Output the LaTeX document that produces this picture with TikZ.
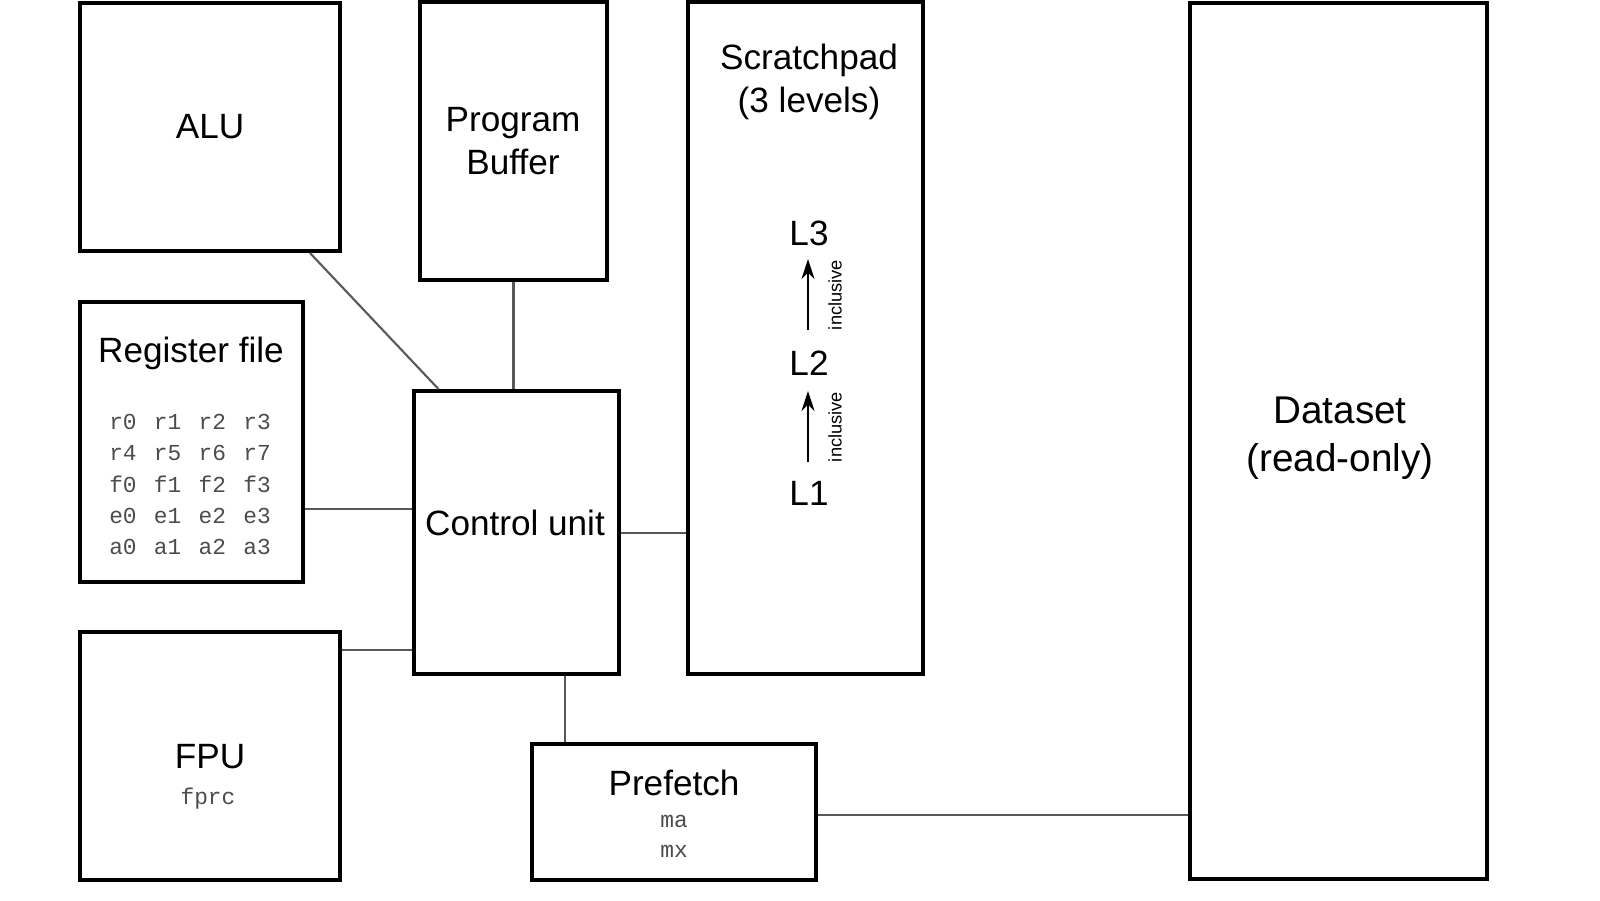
\documentclass[tikz,border=0pt]{standalone}
\usepackage{fontspec}
\setmainfont{Liberation Sans}
\newfontfamily\regmono{Liberation Mono}
\usetikzlibrary{positioning,arrows.meta}

\begin{document}
\begin{tikzpicture}[
    blk/.style={draw, line width=1.1pt, inner sep=0pt},
    lbl/.style={font=\fontsize{10}{12.3}\selectfont, align=center},
    reg/.style={font=\regmono\fontsize{6.5}{8}\selectfont, text=black!70},
    link/.style={draw=black!65, line width=0.6pt},
    up/.style={-{Stealth[length=2mm,width=1.3mm]}, line width=0.7pt},
    tag/.style={font=\fontsize{5.2}{6}\selectfont, rotate=90},
]
\useasboundingbox (0,0) rectangle (16,9);

% ===== Blocks =====
\node[blk, minimum width=2.60cm, minimum height=2.48cm] at (2.10,7.73) (alu) {};
\node[blk, minimum width=1.87cm, minimum height=2.78cm] at (5.135,7.59) (buf) {};
\node[blk, minimum width=2.35cm, minimum height=6.72cm] at (8.055,5.62) (spad) {};
\node[blk, minimum width=2.97cm, minimum height=8.76cm] at (13.385,4.59) (data) {};
\node[blk, minimum width=2.23cm, minimum height=2.80cm] at (1.915,4.58) (regs) {};
\node[blk, minimum width=2.05cm, minimum height=2.83cm] at (5.165,3.675) (ctrl) {};
\node[blk, minimum width=2.60cm, minimum height=2.48cm] at (2.10,1.44) (fpu) {};
\node[blk, minimum width=2.84cm, minimum height=1.36cm] at (6.74,0.88) (pref) {};

% ===== Labels =====
\node[lbl] at (2.10,7.73) (alut) {ALU};
\node[lbl] at (5.13,7.59) (buft) {Program\\Buffer};
\node[lbl] at (8.09,8.18) (spadt) {Scratchpad\\(3 levels)};
\node[lbl, font=\fontsize{11}{13.5}\selectfont] at (13.40,4.62) (datat) {Dataset\\(read-only)};
\node[lbl] at (1.91,5.47) (regst) {Register file};
\node[lbl] at (5.15,3.77) (ctrlt) {Control unit};
\node[lbl] at (2.10,1.43) (fput) {FPU};
\node[reg] at (2.08,1.01) (fprc) {fprc};
\node[lbl] at (6.74,1.17) (preft) {Prefetch};
\node[reg] at (6.74,0.79) (ma) {ma};
\node[reg] at (6.74,0.49) (mx) {mx};

% register names
\foreach \p [count=\r] in {r,r,f,e,a}{
  \pgfmathsetmacro{\yy}{9-(4.22+0.313*(\r-1))}
  \foreach \i [count=\c] in {0,...,3}{
    \pgfmathsetmacro{\xx}{1.23+0.447*(\c-1)}
    \ifnum\r=2 \pgfmathtruncatemacro{\i}{\i+4}\fi
    \node[reg] at (\xx,\yy) {\p\i};
  }
}

% ===== Scratchpad levels =====
\node[lbl] at (8.09,6.67) (l3) {L3};
\node[lbl] at (8.09,5.37) (l2) {L2};
\node[lbl] at (8.09,4.07) (l1) {L1};
\coordinate (a1) at (8.08,4.38);
\coordinate (b1) at (8.08,5.09);
\coordinate (a2) at (8.08,5.70);
\coordinate (b2) at (8.08,6.41);
\draw[up] (a1) -- (b1);
\draw[up] (a2) -- (b2);
\node[tag] at (8.35,4.73) {inclusive};
\node[tag] at (8.35,6.05) {inclusive};

% ===== Links =====
\draw[link] ([xshift=-0.32cm]alu.south east) -- ([xshift=-0.78cm]ctrl.north);
\draw[link] (buf.south) -- ([xshift=-0.03cm]ctrl.north);
\draw[link] (regs.east |- 0,3.91) -- (ctrl.west |- 0,3.91);
\draw[link] (fpu.east |- 0,2.50) -- (ctrl.west |- 0,2.50);
\draw[link] (ctrl.east |- 0,3.67) -- (spad.west |- 0,3.67);
\draw[link] (ctrl.south -| 5.65,0) -- (pref.north -| 5.65,0);
\draw[link] (pref.east |- 0,0.85) -- (data.west |- 0,0.85);

\end{tikzpicture}
\end{document}
